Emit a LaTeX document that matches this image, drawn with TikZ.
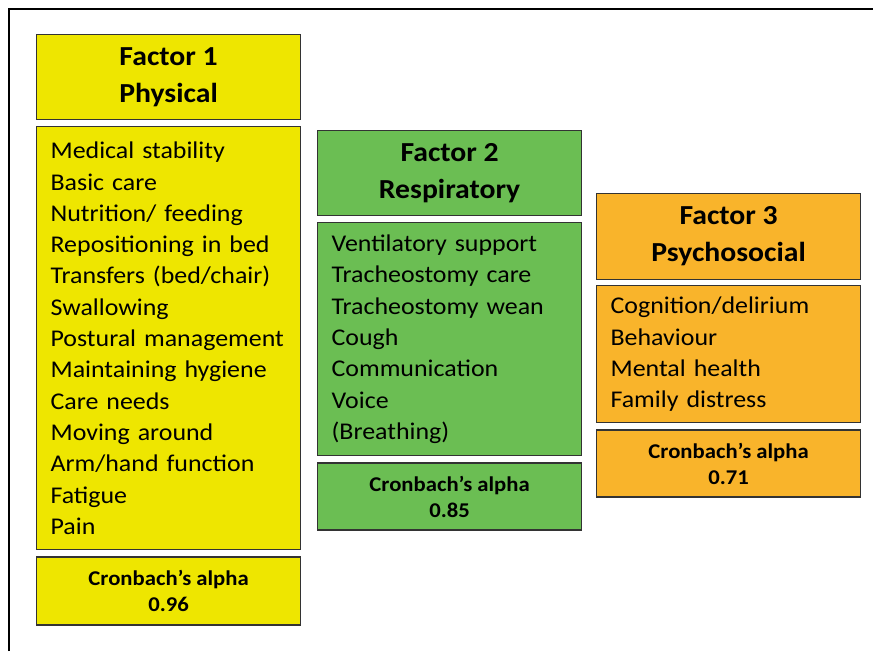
\documentclass[tikz,border=0pt]{standalone}
\usepackage{fontspec}
\setmainfont[FakeStretch=1.08]{Carlito}
\usetikzlibrary{positioning}
\definecolor{physyellow}{HTML}{EEE600}
\definecolor{respgreen}{HTML}{6BBE53}
\definecolor{psyorange}{HTML}{F9B42B}

\begin{document}
\begin{tikzpicture}[x=1pt,y=-1pt,
    head/.style={draw=black!80,line width=1.2pt,minimum width=264pt,minimum height=85pt,inner sep=0pt,align=center,font=\fontsize{27.5}{37}\selectfont\bfseries},
    items/.style={draw=black!80,line width=1.2pt,text width=236pt,inner xsep=14pt,inner ysep=0pt,align=left,font=\fontsize{24}{31.3}\selectfont},
    alpha/.style={draw=black!80,line width=1.2pt,minimum width=264pt,minimum height=67pt,inner sep=0pt,align=center,font=\fontsize{21}{26}\selectfont\bfseries}]
  \useasboundingbox (0,0) rectangle (873,651);
  \draw[line width=1.5pt] (9,651) -- (9,9) -- (873,9);

  % factor 1
  \node[head,fill=physyellow,anchor=north west](f1head) at (36,34) {Factor 1\\Physical};
  \node[items,fill=physyellow,minimum height=423pt,below=6pt of f1head](f1items) {Medical stability\\Basic care\\Nutrition/ feeding\\Repositioning in bed\\Transfers (bed/chair)\\Swallowing\\Postural management\\Maintaining hygiene\\Care needs\\Moving around\\Arm/hand function\\Fatigue\\Pain};
  \node[alpha,fill=physyellow,minimum height=68pt,below=6pt of f1items](f1alpha) {Cronbach’s alpha\\0.96};

  % factor 2
  \node[head,fill=respgreen,anchor=north west](f2head) at (317,130) {Factor 2\\Respiratory};
  \node[items,fill=respgreen,minimum height=233pt,below=6pt of f2head](f2items) {Ventilatory support\\Tracheostomy care\\Tracheostomy wean\\Cough\\Communication\\Voice\\(Breathing)};
  \node[alpha,fill=respgreen,below=6pt of f2items](f2alpha) {Cronbach’s alpha\\0.85};

  % factor 3
  \node[head,fill=psyorange,anchor=north west,minimum height=86pt](f3head) at (596,193) {Factor 3\\Psychosocial};
  \node[items,fill=psyorange,minimum height=137pt,below=5pt of f3head](f3items) {Cognition/delirium\\Behaviour\\Mental health\\Family distress};
  \node[alpha,fill=psyorange,below=6pt of f3items](f3alpha) {Cronbach’s alpha\\0.71};
\end{tikzpicture}
\end{document}
